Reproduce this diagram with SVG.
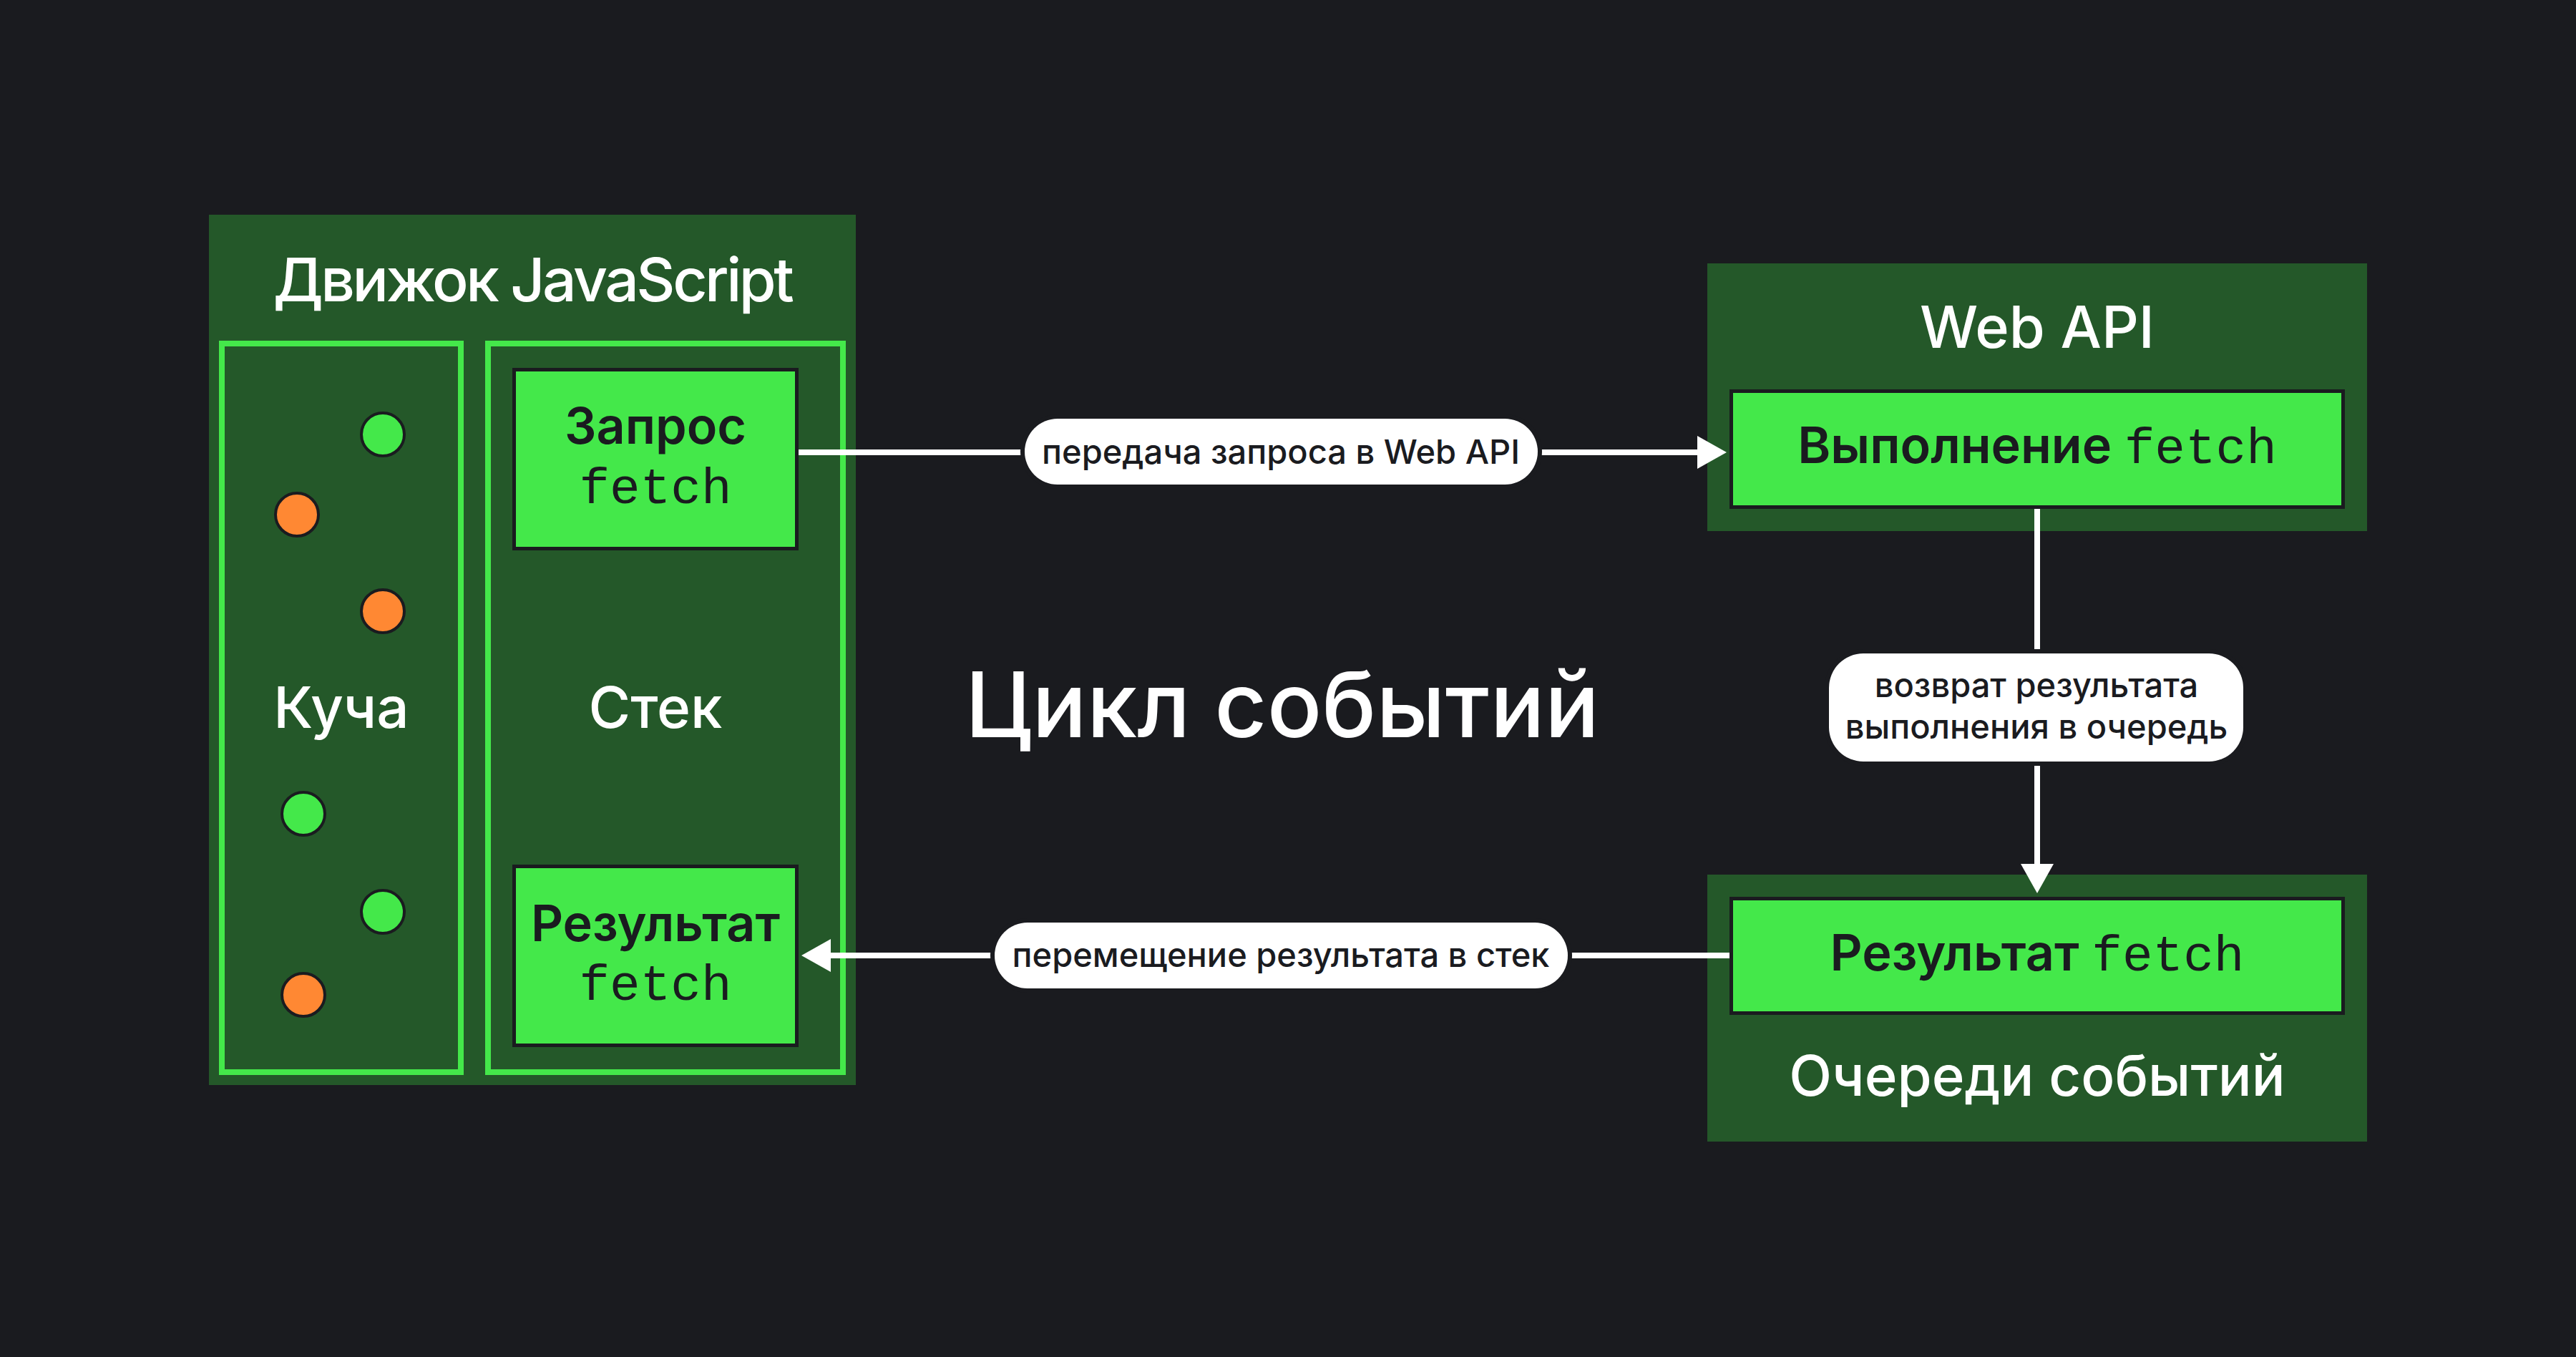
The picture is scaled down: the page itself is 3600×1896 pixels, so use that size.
<svg xmlns="http://www.w3.org/2000/svg" width="3600" height="1896" viewBox="0 0 3600 1896">
<style>
.bg{fill:#1A1B1F}
.panel{fill:#245829}
.frame{fill:none;stroke:#44E84A;stroke-width:8}
.box{fill:#44E84A;stroke:#1A1B1F;stroke-width:5}
.title{font-family:Inter,"Liberation Sans",sans-serif;font-weight:500;fill:#FFFFFF;text-anchor:middle}
.lbl{font-family:Inter,"Liberation Sans",sans-serif;font-weight:600;fill:#1A1B1F;font-size:70px}
.mono{font-family:"Liberation Mono","DejaVu Sans Mono",monospace;font-weight:400;fill:#1A1B1F;font-size:71px}
.dotg{fill:#44E84A;stroke:#1A1B1F;stroke-width:4}
.doto{fill:#FF8833;stroke:#1A1B1F;stroke-width:4}
.conn{stroke:#FFFFFF;stroke-width:8;fill:none}
.pill{fill:#FFFFFF;stroke:#1A1B1F;stroke-width:12;paint-order:stroke}
.pt{font-family:Inter,"Liberation Sans",sans-serif;font-weight:500;fill:#1A1B1F;font-size:47px;text-anchor:middle}
</style>
<defs>
<marker id="ah" markerUnits="userSpaceOnUse" markerWidth="42" markerHeight="46" refX="0" refY="23" orient="auto" viewBox="0 0 42 46">
<path d="M0,0 L41,23 L0,46 Z" fill="#FFFFFF"/>
</marker>
</defs>
<rect class="bg" x="0" y="0" width="3600" height="1896"/>

<g id="js-engine">
<rect class="panel" x="292" y="300" width="904" height="1216"/>
<text class="title" x="744" y="421" font-size="84" letter-spacing="-3.5">Движок JavaScript</text>
</g>

<g id="heap">
<rect class="frame" x="310" y="480" width="334" height="1018"/>
<text class="title" x="477" y="1017" font-size="80">Куча</text>
<circle class="dotg" cx="535" cy="607" r="30"/>
<circle class="doto" cx="415" cy="719" r="30"/>
<circle class="doto" cx="535" cy="854" r="30"/>
<circle class="dotg" cx="424" cy="1137" r="30"/>
<circle class="dotg" cx="535" cy="1274" r="30"/>
<circle class="doto" cx="424" cy="1390" r="30"/>
</g>

<g id="stack">
<rect class="frame" x="682" y="480" width="496" height="1018"/>
<text class="title" x="916" y="1017" font-size="80">Стек</text>
</g>

<g id="fetch-request">
<rect class="box" x="718.5" y="516.5" width="395" height="250"/>
<text class="lbl" x="916" y="620" text-anchor="middle">Запрос</text>
<text class="mono" x="916" y="703" text-anchor="middle">fetch</text>
</g>

<g id="fetch-result-stack">
<rect class="box" x="718.5" y="1210.5" width="395" height="250"/>
<text class="lbl" x="916" y="1315" text-anchor="middle">Результат</text>
<text class="mono" x="916" y="1397" text-anchor="middle">fetch</text>
</g>

<g id="event-loop">
<text class="title" x="1792" y="1030" font-size="127">Цикл событий</text>
</g>

<g id="web-api">
<rect class="panel" x="2386" y="368" width="922" height="374"/>
<text class="title" x="2847" y="486" font-size="81">Web API</text>
<rect class="box" x="2419.5" y="546.5" width="855" height="162"/>
<text x="2847" y="647" text-anchor="middle"><tspan class="lbl">Выполнение </tspan><tspan class="mono">fetch</tspan></text>
</g>

<g id="event-queue">
<rect class="panel" x="2386" y="1222" width="922" height="373"/>
<rect class="box" x="2419.5" y="1255.5" width="855" height="160"/>
<text x="2847" y="1356" text-anchor="middle"><tspan class="lbl">Результат </tspan><tspan class="mono">fetch</tspan></text>
<text class="title" x="2847" y="1531" font-size="78">Очереди событий</text>
</g>

<g id="connectors">
<line class="conn" x1="1116" y1="632" x2="2372" y2="632" marker-end="url(#ah)"/>
<rect class="pill" x="1432" y="585" width="717" height="92" rx="46"/>
<text class="pt" x="1790" y="648">передача запроса в Web API</text>

<line class="conn" x1="2847" y1="711" x2="2847" y2="1207" marker-end="url(#ah)"/>
<rect class="pill" x="2556" y="913" width="579" height="151" rx="48"/>
<text class="pt" x="2846" y="974">возврат результата</text>
<text class="pt" x="2846" y="1032">выполнения в очередь</text>

<line class="conn" x1="2417" y1="1335" x2="1161" y2="1335" marker-end="url(#ah)"/>
<rect class="pill" x="1390" y="1289" width="801" height="92" rx="46"/>
<text class="pt" x="1790" y="1351">перемещение результата в стек</text>
</g>
</svg>
